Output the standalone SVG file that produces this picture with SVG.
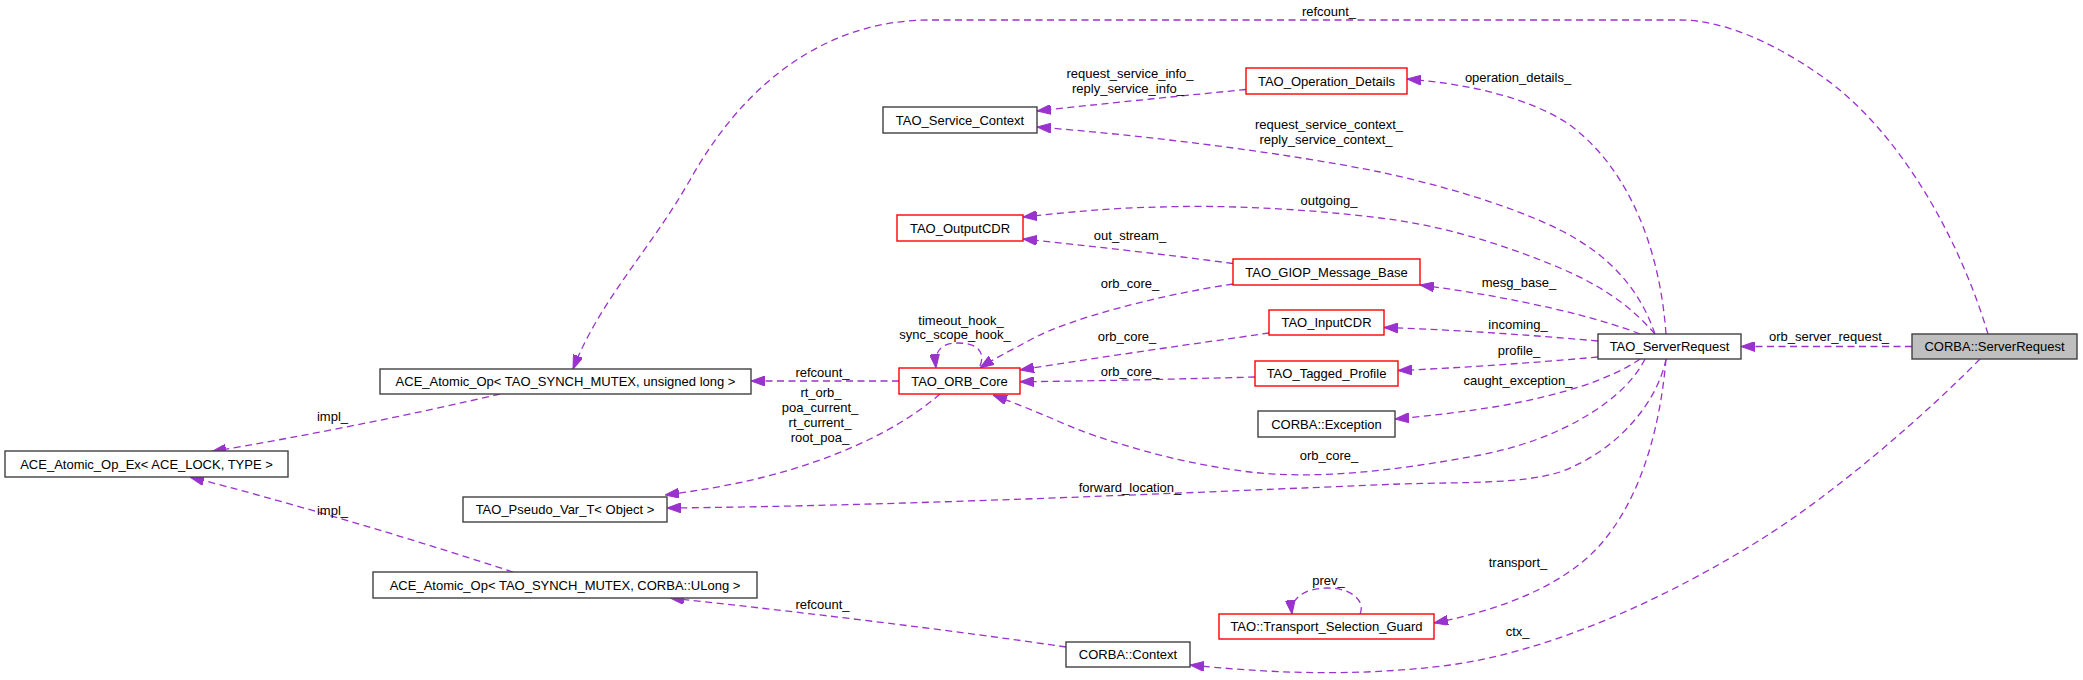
<svg xmlns="http://www.w3.org/2000/svg" width="2083" height="680" viewBox="0 0 2083 680">
<defs>
<marker id="arr" viewBox="0 0 14 10" refX="14" refY="5" markerWidth="14" markerHeight="10" markerUnits="userSpaceOnUse" orient="auto">
<path d="M0,0 L14,5 L0,10 z" fill="#9a32cd" stroke="#9a32cd" stroke-width="1"/>
</marker>
</defs>
<style>
text{font-family:"Liberation Sans",Arial,Helvetica,sans-serif;font-size:13px;fill:#000;text-anchor:middle}
.node rect{fill:#fff;stroke:#404040;stroke-width:1.4}
.node.red rect{stroke:#ff0000}
.node.main rect{fill:#bfbfbf}
.edge path{fill:none;stroke:#9a32cd;stroke-width:1.3;stroke-dasharray:7,4.5;marker-end:url(#arr)}
</style>
<rect width="2083" height="680" fill="#fff"/>
<g id="connectors">
<g class="edge" id="e_orb_server_request"><path d="M1912,346.5 L1741,346.5"/><text x="1829" y="341">orb_server_request_</text></g>
<g class="edge" id="e_refcount_top"><path d="M1988,334 C1960,240 1900,130 1820,75 C1770,40 1720,20 1680,20 L930,20 C820,20 740,90 690,180 C650,250 600,300 573,369"/><text x="1329" y="16">refcount_</text></g>
<g class="edge" id="e_service_info"><path d="M1246,89.5 C1180,96 1100,104 1037,111"/><text x="1130" y="78">request_service_info_</text><text x="1128" y="92.5">reply_service_info_</text></g>
<g class="edge" id="e_operation_details"><path d="M1666,334 C1660,250 1630,170 1570,125 C1530,98 1470,84 1407,79"/><text x="1518" y="82">operation_details_</text></g>
<g class="edge" id="e_service_context"><path d="M1655,334 C1640,290 1610,255 1560,230 C1510,205 1440,185 1380,172 C1280,152 1150,136 1037,127"/><text x="1329" y="129">request_service_context_</text><text x="1326" y="143.5">reply_service_context_</text></g>
<g class="edge" id="e_outgoing"><path d="M1655,334 C1630,305 1600,285 1560,268 C1500,243 1440,225 1380,218 C1300,208 1220,205 1160,207 C1110,208 1070,212 1023,217"/><text x="1329" y="205">outgoing_</text></g>
<g class="edge" id="e_out_stream"><path d="M1233,263.5 C1170,255 1090,246 1023,239"/><text x="1130" y="240">out_stream_</text></g>
<g class="edge" id="e_mesg_base"><path d="M1640,334 C1600,318 1520,298 1420,285"/><text x="1519" y="287">mesg_base_</text></g>
<g class="edge" id="e_orb_core_giop"><path d="M1233,284 C1160,295 1070,318 1030,340 C1010,351 995,358 980,368"/><text x="1130" y="288">orb_core_</text></g>
<g class="edge" id="e_orb_core_input"><path d="M1269,333 C1200,343 1100,357 1020,370"/><text x="1127" y="341">orb_core_</text></g>
<g class="edge" id="e_orb_core_tagged"><path d="M1255,377 C1180,379 1100,381 1020,381.7"/><text x="1130" y="376">orb_core_</text></g>
<g class="edge" id="e_incoming"><path d="M1598,341 C1530,335 1460,330 1384,327.5"/><text x="1518" y="329">incoming_</text></g>
<g class="edge" id="e_profile"><path d="M1598,357 C1530,363 1460,368 1398,370.5"/><text x="1519" y="355">profile_</text></g>
<g class="edge" id="e_caught_exception"><path d="M1640,359 C1610,380 1560,395 1500,406 C1470,411 1430,416 1395,419"/><text x="1518" y="385">caught_exception_</text></g>
<g class="edge" id="e_orb_core_sr"><path d="M1645,359 C1625,400 1560,440 1480,455 C1400,470 1320,480 1250,472 C1180,464 1100,440 1060,422 C1035,411 1012,402 993,395"/><text x="1329" y="460">orb_core_</text></g>
<g class="edge" id="e_forward_location"><path d="M1666,359 C1658,400 1620,450 1560,472 C1520,484 1470,482 1400,484 C1200,492 900,506 667,508"/><text x="1130" y="492">forward_location_</text></g>
<g class="edge" id="e_rt_orb"><path d="M940,394 C910,420 870,442 820,460 C770,478 720,488 665,495"/><text x="821" y="397">rt_orb_</text><text x="820" y="412">poa_current_</text><text x="820" y="427">rt_current_</text><text x="820" y="441.5">root_poa_</text></g>
<g class="edge" id="e_refcount_orb"><path d="M899,381 L751,381"/><text x="822.5" y="377">refcount_</text></g>
<g class="edge" id="e_hooks"><path d="M980,366 C986,351 976,343 958,343 C942,343 934,350 936,368"/><text x="961" y="325">timeout_hook_</text><text x="955" y="339">sync_scope_hook_</text></g>
<g class="edge" id="e_impl1"><path d="M500,394 C420,413 300,437 212,451.5"/><text x="332.5" y="421">impl_</text></g>
<g class="edge" id="e_impl2"><path d="M513,572 C400,535 280,500 190,477"/><text x="332.5" y="515">impl_</text></g>
<g class="edge" id="e_refcount_ctx"><path d="M1066,647 C950,630 800,612 670,598"/><text x="822.5" y="609">refcount_</text></g>
<g class="edge" id="e_transport"><path d="M1666,359 C1660,430 1640,500 1600,545 C1560,590 1490,612 1434,623"/><text x="1518" y="567">transport_</text></g>
<g class="edge" id="e_prev"><path d="M1360,614 C1366,600 1350,588 1328,588 C1305,588 1290,598 1292,614"/><text x="1328.5" y="585">prev_</text></g>
<g class="edge" id="e_ctx"><path d="M1980,359 C1930,410 1840,490 1760,540 C1680,590 1560,650 1450,665 C1350,678 1260,672 1190,665"/><text x="1517.6" y="636">ctx_</text></g>
</g>
<g class="node" id="n_ace_atomic_op_ex"><rect x="5" y="451" width="283" height="26"/><text x="146.5" y="468.5">ACE_Atomic_Op_Ex&lt; ACE_LOCK, TYPE &gt;</text></g>
<g class="node" id="n_ace_atomic_op_ul"><rect x="380" y="369" width="371" height="25"/><text x="565.5" y="386">ACE_Atomic_Op&lt; TAO_SYNCH_MUTEX, unsigned long &gt;</text></g>
<g class="node" id="n_pseudo_var"><rect x="463" y="497" width="204" height="25"/><text x="565" y="514">TAO_Pseudo_Var_T&lt; Object &gt;</text></g>
<g class="node" id="n_ace_atomic_op_ulong"><rect x="373" y="572" width="384" height="26"/><text x="565" y="589.5">ACE_Atomic_Op&lt; TAO_SYNCH_MUTEX, CORBA::ULong &gt;</text></g>
<g class="node" id="n_service_context"><rect x="883" y="107" width="154" height="26"/><text x="960" y="124.5">TAO_Service_Context</text></g>
<g class="node red" id="n_operation_details"><rect x="1246" y="68" width="161" height="26"/><text x="1326.5" y="85.5">TAO_Operation_Details</text></g>
<g class="node red" id="n_output_cdr"><rect x="897" y="215" width="126" height="26"/><text x="960" y="232.5">TAO_OutputCDR</text></g>
<g class="node red" id="n_giop"><rect x="1233" y="259" width="187" height="26"/><text x="1326.5" y="276.5">TAO_GIOP_Message_Base</text></g>
<g class="node red" id="n_input_cdr"><rect x="1269" y="310" width="115" height="25"/><text x="1326.5" y="327">TAO_InputCDR</text></g>
<g class="node red" id="n_orb_core"><rect x="899" y="368" width="121" height="26"/><text x="959.5" y="385.5">TAO_ORB_Core</text></g>
<g class="node red" id="n_tagged_profile"><rect x="1255" y="361" width="143" height="25"/><text x="1326.5" y="378">TAO_Tagged_Profile</text></g>
<g class="node" id="n_exception"><rect x="1258" y="411" width="137" height="26"/><text x="1326.5" y="428.5">CORBA::Exception</text></g>
<g class="node red" id="n_guard"><rect x="1219" y="614" width="215" height="25"/><text x="1326.5" y="631">TAO::Transport_Selection_Guard</text></g>
<g class="node" id="n_context"><rect x="1066" y="642" width="124" height="25"/><text x="1128" y="659">CORBA::Context</text></g>
<g class="node" id="n_tao_server_request"><rect x="1598" y="334" width="143" height="25"/><text x="1669.5" y="351">TAO_ServerRequest</text></g>
<g class="node main" id="n_corba_server_request"><rect x="1912" y="334" width="165" height="25"/><text x="1994.5" y="351">CORBA::ServerRequest</text></g>
</svg>
